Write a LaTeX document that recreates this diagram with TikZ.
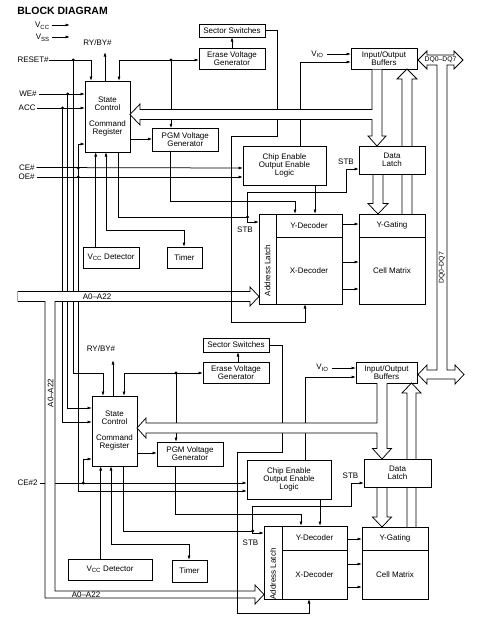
\documentclass[tikz,border=0pt]{standalone}
\usepackage{fontspec}
\setmainfont{Liberation Sans}
\usetikzlibrary{arrows.meta}
\newcommand\fsz{\fontsize{8}{8}\selectfont}
\newcommand\fsm{\fontsize{6.8}{7}\selectfont}
\begin{document}
\begin{tikzpicture}[x=1pt,y=-1pt, line width=0.75pt,
  box/.style={draw, fill=white, inner sep=0pt, outer sep=0pt, align=center, font=\fsz},
  lbl/.style={inner sep=0pt, font=\fsz, text height=5.8pt, text depth=0pt},
  arr/.style={-{Latex[length=4.5pt,width=3pt]}},
  hollow/.style={draw, fill=white, line width=0.75pt},
  jdot/.style={fill=black}]
\useasboundingbox (0,0) rectangle (489,621);

% ---------------- title and free labels
\node[anchor=west, inner sep=0pt, font=\fontsize{10.5}{11}\bfseries] (title) at (17,11) {BLOCK DIAGRAM};
\node[lbl, anchor=east] (vcc) at (50,25) {V\textsubscript{CC}};
\node[lbl, anchor=east] (vss) at (50,37) {V\textsubscript{SS}};
\coordinate (vccend) at (70,25);
\coordinate (vssend) at (70,37);
\draw[arr] (52,25) -- (vccend);
\draw[arr] (52,37) -- (vssend);

% ---------------- boxes (top die)
\node[box, minimum width=66pt, minimum height=13pt] (sec1) at (232,30.5) {Sector Switches};
\node[box, minimum width=66pt, minimum height=21pt] (era1) at (232,58.8) {Erase Voltage\\Generator};
\node[box, minimum width=66pt, minimum height=21pt] (io1) at (384,58.5) {Input/Output\\Buffers};
\node[box, minimum width=45pt, minimum height=71pt] (sc1) at (107.5,116.5) {State\\Control\\[8pt]Command\\Register};
\node[box, minimum width=66pt, minimum height=23.5pt] (pgm1) at (185.3,140) {PGM Voltage\\Generator};
\node[box, minimum width=83pt, minimum height=39pt] (ce1) at (284.5,165.5) {Chip Enable\\Output Enable\\Logic};
\node[box, minimum width=66pt, minimum height=28pt] (dl1) at (392,160) {Data\\Latch};
\node[box, minimum width=56pt, minimum height=21pt] (vd1) at (111,257.5) {V\textsubscript{CC} Detector};
\node[box, minimum width=35pt, minimum height=21pt] (tim1) at (184.5,257.5) {Timer};
\node[box, minimum width=17pt, minimum height=90pt] (al1) at (267.5,259) {};
\node[box, minimum width=66pt, minimum height=23pt] (yd1) at (309,225.5) {Y-Decoder};
\node[box, minimum width=66pt, minimum height=67pt] (xd1) at (309,270.5) {X-Decoder};
\node[box, minimum width=66pt, minimum height=23pt] (yg1) at (392,225.5) {Y-Gating};
\node[box, minimum width=66pt, minimum height=67pt] (cm1) at (392,270.5) {Cell Matrix};

% ---------------- boxes (bottom die)
\node[box, minimum width=66pt, minimum height=14pt] (sec2) at (236,345) {Sector Switches};
\node[box, minimum width=66pt, minimum height=21pt] (era2) at (236,372.5) {Erase Voltage\\Generator};
\node[box, minimum width=61pt, minimum height=21pt] (io2) at (386.5,372.5) {Input/Output\\Buffers};
\node[box, minimum width=45pt, minimum height=70pt] (sc2) at (114.5,431) {State\\Control\\[8pt]Command\\Register};
\node[box, minimum width=66pt, minimum height=24pt] (pgm2) at (190,454) {PGM Voltage\\Generator};
\node[box, minimum width=84pt, minimum height=39pt] (ce2) at (289,479.5) {Chip Enable\\Output Enable\\Logic};
\node[box, minimum width=67pt, minimum height=28pt] (dl2) at (397.5,473) {Data\\Latch};
\node[box, minimum width=84pt, minimum height=21pt] (vd2) at (110,569.5) {V\textsubscript{CC} Detector};
\node[box, minimum width=35pt, minimum height=22pt] (tim2) at (189.5,571) {Timer};
\node[box, minimum width=18pt, minimum height=73pt] (al2) at (273,562.5) {};
\node[box, minimum width=65pt, minimum height=24pt] (yd2) at (314.5,538) {Y-Decoder};
\node[box, minimum width=65pt, minimum height=49pt] (xd2) at (314.5,574.5) {X-Decoder};
\node[box, minimum width=66pt, minimum height=23pt] (yg2) at (395,538.5) {Y-Gating};
\node[box, minimum width=66pt, minimum height=49pt] (cm2) at (395,574.5) {Cell Matrix};

% ---------------- left signal labels
\node[lbl, anchor=east] (reset) at (49,60) {RESET\#};
\node[lbl, anchor=east] (we) at (37,94) {WE\#};
\node[lbl, anchor=east] (acc) at (36,108) {ACC};
\node[lbl, anchor=east] (ce) at (35,167.5) {CE\#};
\node[lbl, anchor=east] (oe) at (35,177) {OE\#};
\node[lbl, anchor=east] (ce2l) at (38,483) {CE\#2};
\node[lbl] (ryby1) at (97.5,43) {RY/BY\#};
\node[lbl] (ryby2) at (101,349) {RY/BY\#};
\node[lbl] (vio1) at (317.5,53.5) {V\textsubscript{IO}};
\node[lbl] (vio2) at (322.5,367) {V\textsubscript{IO}};
\node[lbl] (stba1) at (245,230) {STB};
\node[lbl] (stbd1) at (346,162) {STB};
\node[lbl] (stba2) at (250.5,543) {STB};
\node[lbl] (stbd2) at (350.5,476) {STB};

\begin{scope}[on background layer/.try]
\end{scope}

% ================= thin signal lines (drawn first) =================
% control inputs, top die
\draw[arr] (reset.east) -- (91,60) -- (91,0 |- sc1.north);
\draw[arr] (39,94) -- (sc1.west |- 0,94);
\draw[arr] (37,108) -- (sc1.west |- 0,108);
\draw[arr] (ce.east) ++(1.5,0) -- (ce1.west |- 0,168);
\draw[arr] (36.5,177) -- (ce1.west |- 0,177);
% vertical bundle to bottom die
\draw[arr] (73.3,60) -- (73.3,373) -- (103,373) -- (103,0 |- sc2.north);
\draw[arr] (67.7,94) -- (67.7,408) -- (sc2.west |- 0,408);
\draw[arr] (62.5,108) -- (62.5,422) -- (sc2.west |- 0,422);
\draw[arr] (78.3,177) -- (78.3,491) -- (ce2.west |- 0,491);
\draw[arr] (78.3,177) -- (78.3,144) -- (sc1.west |- 0,144);
\fill[jdot] (73.3,60) circle[radius=1.6pt];
\fill[jdot] (67.7,94) circle[radius=1.6pt];
\fill[jdot] (62.5,108) circle[radius=1.6pt];
\fill[jdot] (78.3,168) circle[radius=1.6pt];
\fill[jdot] (78.3,177) circle[radius=1.6pt];

% top die internal
\draw[arr] (105,0 |- sc1.north) -- (105,52);
\draw[arr] (171,60) -| (119,0 |- sc1.north);
\draw[arr] (171,60) -- (era1.west |- 0,60);
\draw[arr] (171,60) -- (171,0 |- pgm1.north);
\fill[jdot] (171,60) circle[radius=1.6pt];
\draw[arr] (232,0 |- era1.north) -- (232,0 |- sec1.south);
\draw[arr] (sc1.east |- 0,139) -- (pgm1.west |- 0,139);
\draw[arr] (95.7,0 |- vd1.north) -- (95.7,0 |- sc1.south);
\draw[arr] (106,230) -- (106,0 |- sc1.south);
\draw[arr] (106,230) -- (184,230) -- (184,0 |- tim1.north);
\draw (118,0 |- sc1.south) -- (118,217) -- (247.5,217);
\fill[jdot] (247.5,217) circle[radius=1.6pt];
\draw[arr] (247.5,192) -- (247.5,222) -- (al1.west |- 0,222);
\draw[arr] (247.5,192) -- (346,192) -- (346,169) -- (dl1.west |- 0,169);
\draw[arr] (170.7,0 |- pgm1.south) -- (170.7,201) -- (295,201) -- (295,0 |- yd1.north);
\draw[arr] (315,0 |- ce1.south) -- (315,0 |- yd1.north);
\draw[arr] (yd1.east |- 0,224) -- (yg1.west |- 0,224);
\draw[arr] (xd1.east |- 0,262) -- (cm1.west |- 0,262);
\draw[arr] (xd1.east |- 0,289) -- (cm1.west |- 0,289);
\draw[arr] (300,0 |- ce1.north) -- (300,62) -- (io1.west |- 0,62);
\draw[arr] (327,54) -- (io1.west |- 0,54);
\draw (sec1.east) -- (277,0 |- sec1.east) -- (277,136) -- (231,136);

% bottom die internal
\draw[arr] (40,483) -- (ce2.west |- 0,483);
\draw[arr] (83.3,483) -- (83.3,459) -- (sc2.west |- 0,459);
\fill[jdot] (83.3,483) circle[radius=1.6pt];
\draw[arr] (113,0 |- sc2.north) -- (113,360);
\draw[arr] (176,373) -| (124,0 |- sc2.north);
\draw[arr] (176,373) -- (era2.west |- 0,373);
\draw[arr] (176,373) -- (176,0 |- pgm2.north);
\fill[jdot] (176,373) circle[radius=1.6pt];
\draw[arr] (238,0 |- era2.north) -- (238,0 |- sec2.south);
\draw[arr] (sc2.east |- 0,453) -- (pgm2.west |- 0,453);
\draw[arr] (100.7,0 |- vd2.north) -- (100.7,0 |- sc2.south);
\draw[arr] (111,544) -- (111,0 |- sc2.south);
\draw[arr] (111,544) -- (189,544) -- (189,0 |- tim2.north);
\draw (123,0 |- sc2.south) -- (123,531) -- (252.7,531);
\fill[jdot] (252.7,531) circle[radius=1.6pt];
\draw[arr] (252.7,506) -- (252.7,533) -- (al2.west |- 0,533);
\draw[arr] (252.7,506) -- (351,506) -- (351,483) -- (dl2.west |- 0,483);
\draw[arr] (175,0 |- pgm2.south) -- (175,514) -- (301,514) -- (301,0 |- yd2.north);
\draw[arr] (320,0 |- ce2.south) -- (320,0 |- yd2.north);
\draw[arr] (yd2.east |- 0,539) -- (yg2.west |- 0,539);
\draw[arr] (xd2.east |- 0,564) -- (cm2.west |- 0,564);
\draw[arr] (xd2.east |- 0,587) -- (cm2.west |- 0,587);
\draw[arr] (305,0 |- ce2.north) -- (305,377) -- (io2.west |- 0,377);
\draw[arr] (332,368) -- (io2.west |- 0,368);
\draw (sec2.east) -- (282,0 |- sec2.east) -- (282,452) -- (237,452);

% ================= hollow buses =================
% top die: IO -> data latch, branch to state control
\filldraw[hollow] (372,69.5) -- (372,109.5) -- (140,109.5) -- (140,104) -- (sc1.east |- 0,114.5) -- (140,125) -- (140,119.5) -- (372,119.5) -- (372,136) -- (368,136) -- (377,0 |- dl1.north) -- (386,136) -- (382,136) -- (382,69.5);
\filldraw[hollow] (402,214) -- (402,79) -- (397,79) -- (407,0 |- io1.south) -- (417,79) -- (412,79) -- (412,214);
\filldraw[hollow] (373,174) -- (373,203.5) -- (368,203.5) -- (378,0 |- yg1.north) -- (388,203.5) -- (383,203.5) -- (383,174);
% bottom die
\filldraw[hollow] (377,383) -- (377,423) -- (146,423) -- (146,418) -- (sc2.east |- 0,428) -- (146,438) -- (146,433) -- (377,433) -- (377,448.5) -- (372.5,448.5) -- (382,0 |- dl2.north) -- (391.5,448.5) -- (387,448.5) -- (387,383);
\filldraw[hollow] (407,527) -- (407,393) -- (402,393) -- (411.5,0 |- io2.south) -- (421,393) -- (416,393) -- (416,527);
\filldraw[hollow] (377,487) -- (377,517) -- (372.5,517) -- (382,0 |- yg2.north) -- (391.5,517) -- (387,517) -- (387,487);
% DQ bus
\filldraw[hollow] (418,60) -- (427,51) -- (427,55) -- (454,55) -- (454,51) -- (463,60) -- (454,69) -- (454,65) -- (447,65) -- (447,370) -- (455,370) -- (455,365) -- (464,374.5) -- (455,384) -- (455,379) -- (427,379) -- (427,384) -- (418,374.5) -- (427,365) -- (427,370) -- (437,370) -- (437,65) -- (427,65) -- (427,69) -- cycle;
\node[inner sep=0pt, font=\fsm] (dqt) at (440.5,60) {DQ0--DQ7};
\node[inner sep=0pt, font=\fsm, rotate=90] (dqv) at (442,268) {DQ0--DQ7};
% address bus
\filldraw[hollow] (18,301.5) -- (18,291.5) -- (250,291.5) -- (250,287) -- (al1.west |- 0,296.5) -- (250,306) -- (250,301.5) -- (55,301.5) -- (55,591) -- (255,591) -- (255,585) -- (al2.west |- 0,594.5) -- (255,604) -- (255,598) -- (45,598) -- (45,301.5) -- (18,301.5);
\fill[white] (17.6,292) rectangle (18.4,301);
\node[lbl] (a1) at (97,296.5) {A0--A22};
\node[lbl, rotate=90] (a2) at (50.5,393) {A0--A22};
\node[lbl] (a3) at (86,594.5) {A0--A22};

% lines crossing over the address bus
\draw[arr] (231,136) -- (231,322) -- (305,322) -- (305,0 |- xd1.south);
\draw[arr] (237,452) -- (237,613) -- (309,613) -- (309,0 |- xd2.south);

% redraw boxes crossed by lines
\node[box, minimum width=66pt, minimum height=28pt] at (dl1) {Data\\Latch};
\node[box, minimum width=67pt, minimum height=28pt] at (dl2) {Data\\Latch};
\node[box, minimum width=17pt, minimum height=90pt] at (al1) {};
\node[box, minimum width=18pt, minimum height=73pt] at (al2) {};
\node[box, minimum width=66pt, minimum height=23pt] at (yg1) {Y-Gating};
\node[box, minimum width=66pt, minimum height=23pt] at (yg2) {Y-Gating};
\node[lbl, rotate=90] (alt1) at (267.5,270.5) {Address Latch};
\node[lbl, rotate=90] (alt2) at (273,574) {Address Latch};
\end{tikzpicture}
\end{document}
